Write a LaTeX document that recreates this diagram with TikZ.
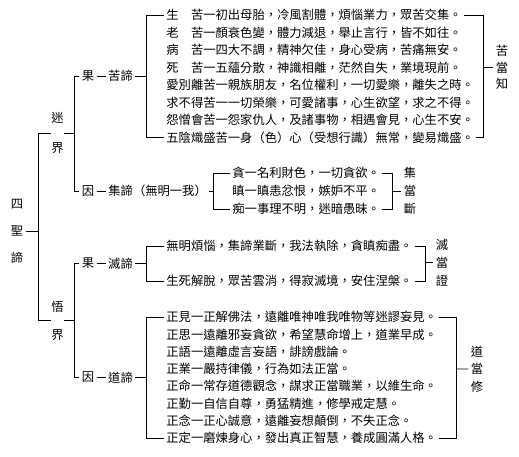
\documentclass[tikz,border=0pt]{standalone}
\usepackage{fontspec}
\setmainfont{Noto Sans CJK TC}
\tikzset{
  txt/.style={anchor=west, inner sep=2pt},
  lbl/.style={inner sep=2pt}
}

\begin{document}
\begin{tikzpicture}[x=1pt, y=-1pt, font=\fontsize{12.3}{14}\selectfont, line width=0.8pt]
	%%%%% START %%%%%
	\useasboundingbox (0,0) rectangle (519,456);
	
	% 四聖諦
	\node[lbl] (si) at (17,204) {四};
	\node[lbl] (sheng) at (17,231) {聖};
	\node[lbl] (di) at (17,258) {諦};
	\coordinate (zong) at (38,231);
	\draw (sheng.east) -- (zong);
	
	% 迷界 / 悟界
	\node[lbl] (mi) at (57.5,118) {迷};
	\node[lbl] (jie1) at (57.5,148) {界};
	\coordinate (mj) at (57.5,133.5);
	\node[lbl] (wu) at (57.5,307) {悟};
	\node[lbl] (jie2) at (57.5,335) {界};
	\coordinate (wj) at (57.5,320.5);
	\draw (zong |- mj) -- (zong |- wj);
	\coordinate (mizu) at (74,133.5);
	\coordinate (wuzu) at (74,320.5);
	\draw (zong |- mj) -- ([xshift=-6.5pt]mj);
	\draw ([xshift=6.5pt]mj) -- (mizu);
	\draw (zong |- wj) -- ([xshift=-6.5pt]wj);
	\draw ([xshift=6.5pt]wj) -- (wuzu);
	
	% 果 / 因
	\node[lbl] (guo1) at (88,76.25) {果};
	\node[lbl] (kudi) at (120.5,76.25) {苦諦};
	\node[lbl] (yin1) at (88,191) {因};
	\node[txt] (jidi) at (106,191) {集諦（無明一我）};
	\node[lbl] (guo2) at (88,263.5) {果};
	\node[lbl] (miedi) at (120.5,263.5) {滅諦};
	\node[lbl] (yin2) at (88,377.5) {因};
	\node[lbl] (daodi) at (120.5,377.5) {道諦};
	\draw (guo1.west) -- (guo1.west -| mizu) -- (yin1.west -| mizu) -- (yin1.west);
	\draw (guo2.west) -- (guo2.west -| wuzu) -- (yin2.west -| wuzu) -- (yin2.west);
	\draw (guo1) -- (kudi);
	\draw (yin1) -- (jidi);
	\draw (guo2) -- (miedi);
	\draw (yin2) -- (daodi);
	
	% 苦諦
	\node[txt] (k1) at (164,15) {生　苦一初出母胎，冷風割體，煩惱業力，眾苦交集。};
	\node[txt] (k2) at (164,32.5) {老　苦一顏衰色變，體力減退，舉止言行，皆不如往。};
	\node[txt] (k3) at (164,50) {病　苦一四大不調，精神欠佳，身心受病，苦痛無安。};
	\node[txt] (k4) at (164,67.5) {死　苦一五蘊分散，神識相離，茫然自失，業境現前。};
	\node[txt] (k5) at (164,85) {愛別離苦一親族朋友，名位權利，一切愛樂，離失之時。};
	\node[txt] (k6) at (164,102.5) {求不得苦一一切榮樂，可愛諸事，心生欲望，求之不得。};
	\node[txt] (k7) at (164,120) {怨憎會苦一怨家仇人，及諸事物，相遇會見，心生不安。};
	\node[txt] (k8) at (164,137.5) {五陰熾盛苦一身（色）心（受想行識）無常，變易熾盛。};
	\coordinate (kl) at (146,76.25);
	\coordinate (kr) at (483,67.5);
	\draw (k1.west) -- (k1.west -| kl) -- (k8.west -| kl) -- (k8.west);
	\draw (kudi.east) -- (kl);
	\draw (k1.east) -- (k1.east -| kr) -- (k8.east -| kr) -- (k8.east);
	\node[lbl] (kku) at (502,51) {苦};
	\node[lbl] (kdang) at (502,67.5) {當};
	\node[lbl] (kzhi) at (502,84) {知};
	\draw (kr) -- (kdang.west);
	
	% 集諦
	\node[txt] (j1) at (230,173) {貪一名利財色，一切貪欲。};
	\node[txt] (j2) at (230,191) {瞋一瞋恚忿恨，嫉妒不平。};
	\node[txt] (j3) at (230,209) {痴一事理不明，迷暗愚昧。};
	\coordinate (jl) at (213,191);
	\coordinate (jr) at (392,191);
	\draw (j1.west) -- (j1.west -| jl) -- (j3.west -| jl) -- (j3.west);
	\draw (jidi.east) -- (jl);
	\draw (j1.east) -- (j1.east -| jr) -- (j3.east -| jr) -- (j3.east);
	\node[lbl] (jji) at (410,173) {集};
	\node[lbl] (jdang) at (410,191) {當};
	\node[lbl] (jduan) at (410,209) {斷};
	\draw (jr) -- (jdang.west);
	
	% 滅諦
	\node[txt] (m1) at (164,246) {無明煩惱，集諦業斷，我法執除，貪瞋痴盡。};
	\node[txt] (m2) at (164,281) {生死解脫，眾苦雲消，得寂滅境，安住涅槃。};
	\coordinate (ml) at (146,263.5);
	\coordinate (mr) at (425,262.5);
	\draw (m1.west) -- (m1.west -| ml) -- (m2.west -| ml) -- (m2.west);
	\draw (miedi.east) -- (ml);
	\draw (m1.east) -- (m1.east -| mr) -- (m2.east -| mr) -- (m2.east);
	\node[lbl] (mmie) at (442,244.5) {滅};
	\node[lbl] (mdang) at (442,262.5) {當};
	\node[lbl] (mzheng) at (442,280.5) {證};
	\draw (mr) -- (mdang.west);
	
	% 道諦
	\node[txt] (d1) at (164,317) {正見一正解佛法，遠離唯神唯我唯物等迷謬妄見。};
	\node[txt] (d2) at (164,334.3) {正思一遠離邪妄貪欲，希望慧命增上，道業早成。};
	\node[txt] (d3) at (164,351.6) {正語一遠離虛言妄語，誹謗戲論。};
	\node[txt] (d4) at (164,368.9) {正業一嚴持律儀，行為如法正當。};
	\node[txt] (d5) at (164,386.2) {正命一常存道德觀念，謀求正當職業，以維生命。};
	\node[txt] (d6) at (164,403.5) {正勤一自信自尊，勇猛精進，修學戒定慧。};
	\node[txt] (d7) at (164,420.8) {正念一正心誠意，遠離妄想顛倒，不失正念。};
	\node[txt] (d8) at (164,438.1) {正定一磨煉身心，發出真正智慧，養成圓滿人格。};
	\coordinate (dl) at (146,377.5);
	\coordinate (dr) at (456,368.9);
	\draw (d1.west) -- (d1.west -| dl) -- (d8.west -| dl) -- (d8.west);
	\draw (daodi.east) -- (dl);
	\draw (d1.east) -- (d1.east -| dr) -- (d8.east -| dr) -- (d8.east);
	\node[lbl] (ddao) at (477,351.5) {道};
	\node[lbl] (ddang) at (477,369) {當};
	\node[lbl] (dxiu) at (477,386.5) {修};
	\draw (dr) -- (ddang.west);
	
	%%%%% END %%%%%
\end{tikzpicture}
\end{document}
